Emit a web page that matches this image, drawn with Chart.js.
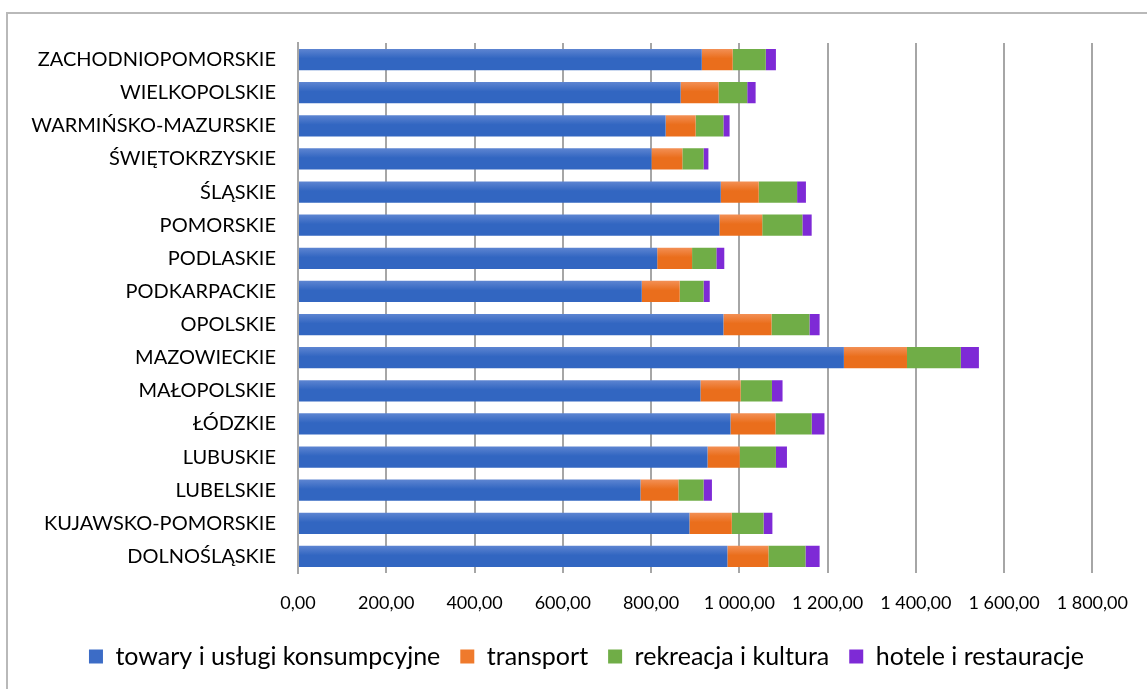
<!DOCTYPE html>
<html lang="pl">
<head>
<meta charset="utf-8">
<title>Wydatki wg województw</title>
<script src="https://cdn.jsdelivr.net/npm/chart.js@4"></script>
<style>
  html, body { margin: 0; padding: 0; background: #fff; }
  .chart-box { position: relative; width: 1147px; height: 689px; overflow: hidden; }
  .chart-frame {
    position: absolute; left: 6px; top: 12px; width: 1160px; height: 700px;
    border: 2px solid #b9b9b9; box-sizing: border-box; pointer-events: none;
  }
</style>
</head>
<body>
<div class="chart-box">
  <canvas id="region-chart" width="1147" height="689"></canvas>
  <div class="chart-frame"></div>
</div>
<script>
// Data
const regions = [
  "ZACHODNIOPOMORSKIE", "WIELKOPOLSKIE", "WARMIŃSKO-MAZURSKIE", "ŚWIĘTOKRZYSKIE",
  "ŚLĄSKIE", "POMORSKIE", "PODLASKIE", "PODKARPACKIE", "OPOLSKIE", "MAZOWIECKIE",
  "MAŁOPOLSKIE", "ŁÓDZKIE", "LUBUSKIE", "LUBELSKIE", "KUJAWSKO-POMORSKIE", "DOLNOŚLĄSKIE"
];
const towary = [915, 867, 833, 801, 958, 955, 814, 779, 964, 1237, 912, 980, 928, 776, 887, 973];
const transport = [70, 86, 68, 70, 86, 97, 79, 86, 109, 143, 91, 102, 73, 86, 96, 93];
const rekreacja = [75, 65, 63, 48, 87, 91, 55, 54, 86, 122, 71, 82, 82, 57, 72, 84];
const hotele = [23, 19, 14, 11, 20, 21, 18, 14, 23, 41, 24, 29, 25, 19, 20, 32];
const seriesNames = ["towary i usługi konsumpcyjne", "transport", "rekreacja i kultura", "hotele i restauracje"];
const xMax = 1800;
const xStep = 200;
// End Data

const FONT = "Lato, 'Open Sans', sans-serif";

// gradient per bar (top light -> bottom dark)
const barGradient = (topColor, bottomColor) => (ctx) => {
  const chart = ctx.chart;
  const yScale = chart.scales && chart.scales.y;
  if (!chart.chartArea || !yScale || ctx.dataIndex === undefined) return bottomColor;
  const yc = yScale.getPixelForValue(ctx.dataIndex);
  const g = chart.ctx.createLinearGradient(0, yc - 11, 0, yc + 11);
  g.addColorStop(0, topColor);
  g.addColorStop(0.45, bottomColor);
  g.addColorStop(1, bottomColor);
  return g;
};

const solidColors = ["#3c6cc6", "#ef7a2c", "#70ad47", "#7e2ad6"];

const formatPl = (v) => {
  const parts = Number(v).toFixed(2).split(".");
  parts[0] = parts[0].replace(/\B(?=(\d{3})+(?!\d))/g, " ");
  return parts.join(",");
};

// legend sits a bit right of the canvas centre
const legendShift = {
  id: "legendShift",
  afterLayout: (chart) => {
    if (chart.legend) {
      chart.legend.left += 36;
      chart.legend.right += 36;
    }
  },
};

const regionChart = document.querySelector("#region-chart");
if (regionChart) {
  new Chart(regionChart, {
    type: "bar",
    data: {
      labels: regions,
      datasets: [
        { label: seriesNames[0], data: towary, backgroundColor: barGradient("#5f86d2", "#3266c1") },
        { label: seriesNames[1], data: transport, backgroundColor: barGradient("#f39157", "#ea6e1c") },
        { label: seriesNames[2], data: rekreacja, backgroundColor: "#70ad47" },
        { label: seriesNames[3], data: hotele, backgroundColor: "#7e2ad6" },
      ],
    },
    plugins: [legendShift],
    options: {
      indexAxis: "y",
      responsive: false,
      animation: false,
      layout: {
        padding: { top: 43, left: 8, right: 54, bottom: 10 },
      },
      datasets: {
        bar: { barPercentage: 0.64, categoryPercentage: 1 },
      },
      plugins: {
        tooltip: { enabled: false },
        legend: {
          position: "bottom",
          labels: {
            color: "#000",
            font: { family: FONT, size: 25 },
            boxWidth: 14,
            boxHeight: 14,
            padding: 20,
            generateLabels: (chart) =>
              Chart.defaults.plugins.legend.labels.generateLabels(chart).map((item, i) => ({
                ...item,
                fillStyle: solidColors[i],
                strokeStyle: solidColors[i],
                lineWidth: 0,
              })),
          },
        },
      },
      scales: {
        x: {
          stacked: true,
          min: 0,
          max: xMax,
          ticks: {
            stepSize: xStep,
            color: "#000",
            font: { family: FONT, size: 18 },
            padding: 19,
            callback: (v) => formatPl(v),
            maxRotation: 0,
          },
          grid: { color: "#a6a6a6", lineWidth: 2, drawTicks: false },
          border: { display: false },
          afterFit: (scale) => { scale.height = 51; },
        },
        y: {
          stacked: true,
          ticks: {
            color: "#000",
            font: { family: FONT, size: 20 },
            padding: 14,
            autoSkip: false,
          },
          grid: { display: false },
          border: { display: true, color: "#a6a6a6", width: 2 },
          afterFit: (scale) => { scale.width = 290; },
        },
      },
    },
  });
}
</script>
</body>
</html>
